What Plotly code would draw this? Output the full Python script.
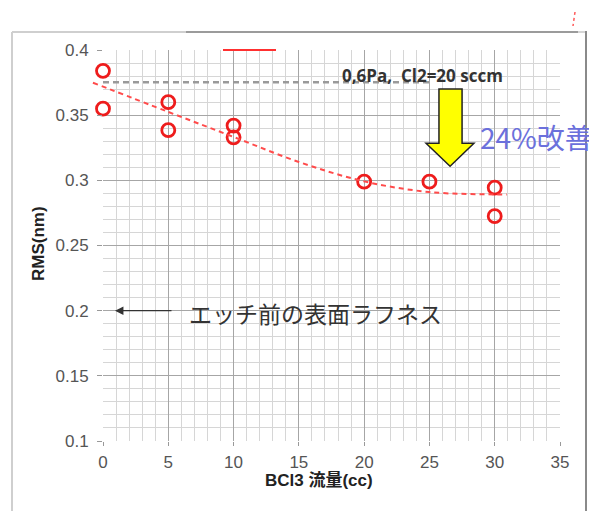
import plotly.graph_objects as go

# The page body adds an 8px margin, so the figure is made 8px smaller and all
# pixel positions below are given in window coordinates, shifted by OFF.
WIN_W, WIN_H = 597, 511
OFF = 8
W, H = WIN_W - OFF, WIN_H - OFF

# ---- data ----
bcl3_flow = [0, 0, 5, 5, 10, 10, 20, 25, 30, 30]
rms_nm = [0.384, 0.355, 0.360, 0.3385, 0.342, 0.333, 0.299, 0.299, 0.2944, 0.2725]

trend_x = [-0.77, 5, 10, 15, 20, 25, 30, 30.94]
trend_y = [0.3749, 0.3525, 0.3333, 0.3141, 0.2992, 0.2910, 0.2892, 0.2892]

baseline_y = 0.3752          # 0.6Pa, Cl2=20 sccm reference level
baseline_x = [0, 25]

x_ticks = [0, 5, 10, 15, 20, 25, 30, 35]
y_ticks = [0.1, 0.15, 0.2, 0.25, 0.3, 0.35, 0.4]
y_ticktext = ["0.1", "0.15", "0.2", "0.25", "0.3", "0.35", "0.4"]

x_range = [0, 35]
y_range = [0.1, 0.4]

# ---- layout geometry (window pixels) ----
PL, PR, PT, PB = 103, 560, 50, 441
EXT_L = 80  # left edge of the auxiliary axis for the trend line extension

def px(x):
    return (x - OFF) / W

def py(y):
    return 1 - (y - OFF) / H

ppu = (PR - PL) / (x_range[1] - x_range[0])
x2_range = [x_range[0] - (PL - EXT_L) / ppu, x_range[1]]

fig = go.Figure()

fig.add_trace(go.Scatter(
    x=baseline_x, y=[baseline_y, baseline_y], mode="lines",
    line=dict(color="#9a9a9a", width=2.5, dash="6px,4px"),
    hoverinfo="skip", showlegend=False))

fig.add_trace(go.Scatter(
    x=trend_x, y=trend_y, mode="lines", xaxis="x2", yaxis="y2",
    line=dict(color="#ff4b4b", width=2, dash="5px,4px", shape="spline"),
    hoverinfo="skip", showlegend=False))

fig.add_trace(go.Scatter(
    x=bcl3_flow, y=rms_nm, mode="markers", cliponaxis=False,
    marker=dict(symbol="circle-open", size=13, color="#ee1c1c",
                line=dict(width=2.8, color="#ee1c1c")),
    showlegend=False))

tickfont = dict(family="Liberation Sans, Arial", size=17, color="#555555")

fig.update_layout(
    width=W, height=H,
    margin=dict(l=0, r=0, t=0, b=0, pad=0, autoexpand=False),
    paper_bgcolor="white", plot_bgcolor="rgba(0,0,0,0)",
    xaxis=dict(domain=[px(PL), px(PR)], range=x_range, tickvals=x_ticks,
               showgrid=True, gridcolor="#a6a6a6", gridwidth=1,
               minor=dict(dtick=1, showgrid=True, gridcolor="#d6d6d6", gridwidth=1,
                          ticks=""),
               zeroline=False, showline=False, ticks="outside", ticklen=4,
               tickcolor="#999999", tickfont=tickfont, anchor="y",
               ticklabelstandoff=2, automargin=False),
    yaxis=dict(domain=[py(PB), py(PT)], range=y_range, tickvals=y_ticks,
               ticktext=y_ticktext,
               showgrid=True, gridcolor="#a6a6a6", gridwidth=1,
               minor=dict(dtick=0.01, showgrid=True, gridcolor="#d6d6d6", gridwidth=1,
                          ticks=""),
               zeroline=False, showline=False, ticks="outside", ticklen=5,
               tickcolor="#999999", tickfont=tickfont, anchor="x",
               ticklabelstandoff=5, automargin=False),
    xaxis2=dict(domain=[px(EXT_L), px(PR)], range=x2_range, visible=False,
                anchor="y2", showgrid=False, automargin=False),
    yaxis2=dict(domain=[py(PB), py(PT)], range=y_range, visible=False,
                anchor="x2", showgrid=False, automargin=False),
)

# ---- frame decorations ----
shapes = [
    dict(type="line", xref="paper", yref="paper", x0=px(12), x1=px(12), y0=py(32), y1=py(511),
         line=dict(color="#cfcfcf", width=2)),
    dict(type="line", xref="paper", yref="paper", x0=px(12), x1=px(186), y0=py(32), y1=py(32),
         line=dict(color="#cfcfcf", width=2)),
    dict(type="line", xref="paper", yref="paper", x0=px(186), x1=px(578), y0=py(32), y1=py(32),
         line=dict(color="#7a7a7a", width=1.5)),
    dict(type="line", xref="paper", yref="paper", x0=px(578), x1=px(587), y0=py(32), y1=py(32),
         line=dict(color="#c8c8c8", width=1.5)),
    dict(type="line", xref="paper", yref="paper", x0=px(586), x1=px(586), y0=py(31), y1=py(511),
         line=dict(color="#8a8a8a", width=2)),
    dict(type="line", xref="paper", yref="paper", x0=px(575), x1=px(573), y0=py(12), y1=py(26),
         line=dict(color="#ff5a5a", width=1.5, dash="3px,3px")),
    dict(type="line", xref="paper", yref="paper", x0=px(223), x1=px(276), y0=py(50), y1=py(50),
         line=dict(color="#ff3030", width=2)),
]

# yellow down arrow (data coordinates)
ax_l, ax_r = 25.73, 27.5
ah_l, ah_r, ah_c = 24.74, 28.41, 26.58
a_top, a_neck, a_tip = 0.370, 0.3285, 0.3108
arrow_path = (f"M {ax_l},{a_top} L {ax_r},{a_top} L {ax_r},{a_neck} L {ah_r},{a_neck} "
              f"L {ah_c},{a_tip} L {ah_l},{a_neck} L {ax_l},{a_neck} Z")
shapes.append(dict(type="path", xref="x", yref="y", path=arrow_path,
                   fillcolor="#ffff00", line=dict(color="#222222", width=1.5)))
fig.update_layout(shapes=shapes)

# ---- annotations ----
ann = [
    dict(x=24.5, y=0.3805, xref="x", yref="y", text="<b>0,6Pa,  Cl2=20 sccm</b>",
         xanchor="center", yanchor="middle",
         showarrow=False, font=dict(family="Open Sans", size=17, color="#333333")),
    dict(x=28.72, y=0.3331, xref="x", yref="y", xanchor="left", yanchor="middle",
         text="24%改善",
         showarrow=False, font=dict(family="Noto Sans CJK JP", size=28, color="#6b70dc")),
    dict(x=6.45, y=0.1985, xref="x", yref="y", xanchor="left", yanchor="middle",
         text="エッチ前の表面ラフネス",
         showarrow=False, font=dict(family="Noto Sans CJK JP", size=23, color="#333333")),
    dict(x=0.92, y=0.2, xref="x", yref="y", ax=5.36, ay=0.2, axref="x", ayref="y",
         text="", showarrow=True, arrowhead=2, arrowsize=1.3, arrowwidth=1.3,
         arrowcolor="#333333"),
    dict(x=px(38), y=py(244), xref="paper", yref="paper", text="<b>RMS(nm)</b>", textangle=-90,
         xanchor="center", yanchor="middle",
         showarrow=False, font=dict(family="Liberation Sans, Arial", size=17, color="#222222")),
    dict(x=px(319), y=py(480), xref="paper", yref="paper", text="<b>BCl3 流量(cc)</b>",
         xanchor="center", yanchor="middle",
         showarrow=False, font=dict(family="Liberation Sans, Arial, Noto Sans CJK JP",
                                    size=17, color="#222222")),
]
fig.update_layout(annotations=ann)

fig.write_html("out.html")
